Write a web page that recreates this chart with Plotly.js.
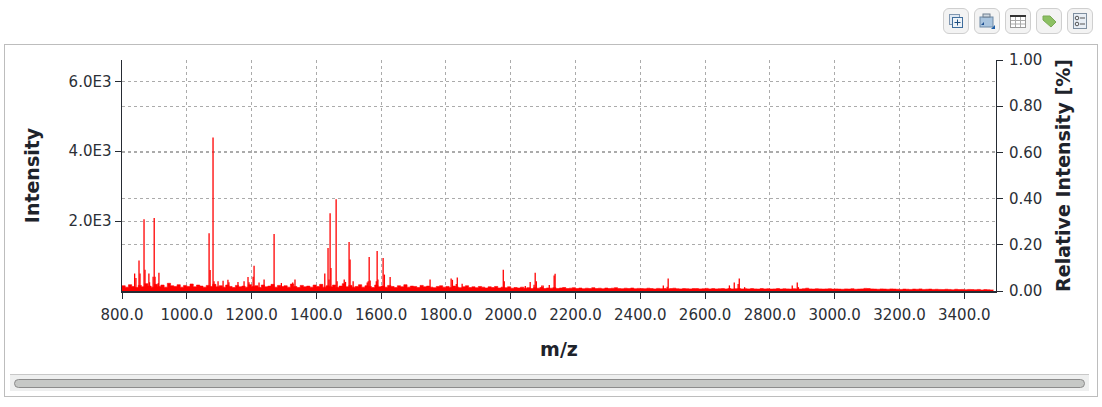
<!DOCTYPE html>
<html><head><meta charset="utf-8">
<script src="https://cdn.plot.ly/plotly-3.0.1.min.js"></script>
<style>
html,body{margin:0;padding:0;background:#fff;width:1102px;height:407px;overflow:hidden}
#panel{position:absolute;left:4px;top:44px;width:1092px;height:351px;border:1px solid #bdbdbd;box-sizing:content-box}
#track{position:absolute;left:10px;top:374px;width:1079px;height:17px;background:#eeefef;border-top:1px solid #c8c8c8;box-sizing:border-box}
#thumb{position:absolute;left:14px;top:379px;width:1069px;height:7px;background:#c6c8c6;border:1px solid #8c8c8c;border-radius:5px;box-sizing:content-box}
.btn{position:absolute;top:8px;width:26px;height:26px;border:1px solid #cfcfcf;border-radius:6px;background:#f3f3f3;box-sizing:border-box}
.btn svg{position:absolute;left:3px;top:3px}
#chart{position:absolute;left:0;top:0;width:1102px;height:407px}
</style></head><body>
<div id="panel"></div><div id="track"></div><div id="thumb"></div>
<div class="btn" style="left:943px"><svg width="18" height="18"><rect x="2.5" y="2.5" width="10" height="10" fill="#dfe8f2" stroke="#7f96b0"/><rect x="5.5" y="5.5" width="10" height="10" fill="#eef3f8" stroke="#3f6d9c"/><path d="M10.5 7.5v6M7.5 10.5h6" stroke="#1f4f80"/></svg></div>
<div class="btn" style="left:974px"><svg width="18" height="18"><rect x="2" y="5" width="13" height="10" fill="#a9c4de" stroke="#6f8aa6"/><rect x="5" y="2" width="7" height="3" fill="#cfd8e0" stroke="#6f7f90"/><path d="M3 13h3v-3z" fill="#1f4f90"/><path d="M13 17h4v-4z" fill="#1f5fa8"/></svg></div>
<div class="btn" style="left:1005px"><svg width="18" height="18"><rect x="1.5" y="3.5" width="15" height="12" fill="#fff" stroke="#999"/><rect x="1" y="3" width="16" height="2" fill="#333"/><path d="M6.5 5v10M11.5 5v10M2 8.5h14M2 12h14" stroke="#aaa"/></svg></div>
<div class="btn" style="left:1036px"><svg width="18" height="18"><path d="M3 4h7l6 6-5 5-8-7z" fill="#8cc063" stroke="#7aa955"/></svg></div>
<div class="btn" style="left:1067px"><svg width="18" height="18"><rect x="2.5" y="1.5" width="13" height="15" fill="#e8eef5" stroke="#7f8fa0"/><circle cx="6" cy="6" r="1.8" fill="none" stroke="#555"/><circle cx="6" cy="12" r="1.8" fill="none" stroke="#555"/><path d="M9 6h5M9 12h5" stroke="#555"/></svg></div>
<div id="chart"></div>
<script>
const peakMz = [839,843,852.5,855.6,868,871,883,885,896,899.4,902,912,914,1068.8,1072,1081,1084,1096.5,1112,1127,1130,1158,1176.8,1189,1192,1204.7,1207.7,1223,1238.6,1269.5,1292,1327,1334,1426,1436,1439,1442.4,1445,1461,1464,1486,1490,1501,1504,1513.5,1557,1560,1563,1566,1585,1587.6,1590,1606,1610,1627.7,1751,1816,1820,1832,1835,1850,1977,1980,2045,2060,2072,2075.5,2079,2096,2100,2119,2134,2137,2471,2483,2486,2675,2690,2702,2705.5,2722,2869,2884.5,2888];
const peakInt = [500,375,870,500,2050,610,500,250,410,2085,410,230,520,1655,600,4390,280,280,290,320,250,260,280,400,250,410,720,240,330,1630,230,240,330,500,1230,330,2225,660,2625,280,330,260,1400,900,280,240,280,975,300,280,1145,330,945,470,400,330,356,320,200,385,205,610,280,140,260,180,525,280,160,160,170,440,495,160,120,356,160,240,200,356,110,160,240,110];
const noiseStart = 800, noiseStep = 10;
const noiseInt = [
150,110,180,130,100,160,120,210,140,110,190,130,170,110,220,150,130,180,110,160,
130,200,120,170,140,110,160,130,190,120,150,110,170,130,100,160,120,140,110,180,
130,150,100,170,120,140,190,110,160,130,150,110,200,130,100,160,120,140,110,170,
130,190,110,150,120,170,100,140,210,120,160,110,130,180,110,150,130,100,170,120,
140,110,160,130,100,150,120,180,110,140,130,100,160,120,140,110,95,130,150,110,
130,100,140,110,95,120,150,100,120,95,130,110,85,120,100,130,85,110,95,120,
80,100,85,110,80,95,70,95,80,100,70,85,80,95,70,85,100,70,80,95,
70,85,65,80,70,95,70,80,65,85,70,80,95,70,65,80,70,85,65,75,
70,65,80,70,60,75,65,70,60,70,80,65,60,70,65,60,70,70,60,65,
75,60,70,60,65,70,60,70,60,65,70,60,65,60,70,60,55,70,60,65,
55,60,70,55,65,60,55,65,60,55,65,80,60,55,65,60,55,60,65,55,
60,55,50,60,55,65,50,55,60,75,70,60,55,50,60,55,50,60,55,50,
45,55,50,45,55,50,60,45,50,55,45,50,45,40,50,45,35,50,40,45,
35,45,40,35,45,30,40,35,30,35];
const stickX = [], stickY = [];
peakMz.forEach((m,i)=>{stickX.push(m,m,null);stickY.push(0,peakInt[i],null);});
const relTicks = [0,0.2,0.4,0.6,0.8,1.0];
const intTicks = [2000,4000,6000];
const intLabels = ['2.0E3','4.0E3','6.0E3'];
const col='#262b33';
const tickFont={family:'DejaVu Sans',size:15,color:'#2b2f36'};
const titleFont={family:'DejaVu Sans',size:19,color:'#1e232b',weight:'bold'};
const gridcolor='#ababab';
const traces=[
 {type:'scatter',mode:'lines',x0:noiseStart,dx:noiseStep,y:noiseInt,line:{color:'#ff0000',width:0.6,shape:'hv'},fill:'tozeroy',fillcolor:'#ff0000',hoverinfo:'skip',showlegend:false},
 {type:'scatter',mode:'lines',x:stickX,y:stickY,line:{color:'#ff0000',width:1.3},hoverinfo:'skip',showlegend:false,connectgaps:false},
 {type:'scatter',mode:'lines',x:[800],y:[0],yaxis:'y2',line:{color:'rgba(0,0,0,0)'},hoverinfo:'skip',showlegend:false}
];
const layout={
 width:1102,height:407,paper_bgcolor:'rgba(0,0,0,0)',plot_bgcolor:'rgba(0,0,0,0)',showlegend:false,
 margin:{l:122,r:106,t:60,b:116,pad:0},
 xaxis:{range:[800,3498],tick0:800,dtick:200,tickformat:'.1f',showgrid:true,gridcolor:gridcolor,griddash:'3px,3px',gridwidth:1,
  ticks:'outside',ticklen:6,tickcolor:col,tickwidth:1,showline:true,linecolor:col,linewidth:1.5,zeroline:false,ticklabelstandoff:3,
  tickfont:tickFont,automargin:false,title:{text:'m/z',font:titleFont,standoff:20}},
 yaxis:{range:[0,6609],tickmode:'array',tickvals:intTicks,ticktext:intLabels,showgrid:true,gridcolor:gridcolor,griddash:'3px,3px',gridwidth:1,
  ticks:'outside',ticklen:6,tickcolor:col,tickwidth:1,showline:true,linecolor:col,linewidth:1.5,zeroline:false,
  tickfont:tickFont,automargin:false,title:{text:'Intensity',font:titleFont,standoff:24}},
 yaxis2:{range:[0,1],overlaying:'y',side:'right',tickmode:'array',tickvals:relTicks,tickformat:'.2f',showgrid:true,gridcolor:gridcolor,griddash:'3px,3px',gridwidth:1,
  ticks:'outside',ticklen:6,tickcolor:col,tickwidth:1,showline:true,linecolor:col,linewidth:1,zeroline:false,ticklabelstandoff:3,
  tickfont:tickFont,automargin:false,title:{text:'Relative Intensity [%]',font:titleFont,standoff:15}}
};
Plotly.newPlot('chart',traces,layout,{displayModeBar:false,staticPlot:true});
</script></body></html>
